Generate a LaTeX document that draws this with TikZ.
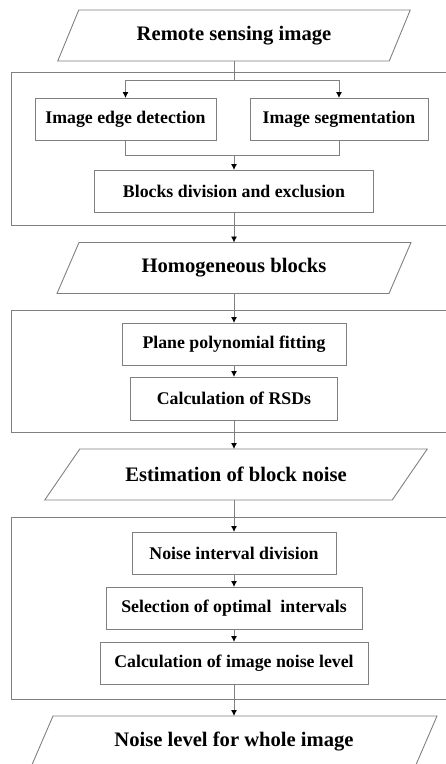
\documentclass[tikz,border=0pt]{standalone}
\usepackage{fontspec}
\setmainfont{Liberation Serif}
\usetikzlibrary{arrows.meta}

\definecolor{linegray}{RGB}{128,128,128}
\tikzset{
  boxline/.style={draw=linegray, line width=0.9pt},
  procbox/.style={boxline, rectangle, minimum height=42pt, inner sep=0pt, outer sep=0pt,
    font=\fontsize{17.8}{20}\selectfont\bfseries},
  databox/.style={rectangle, minimum height=51pt, inner sep=0pt, outer sep=0pt,
    font=\fontsize{20.6}{24}\selectfont\bfseries},
  arr/.style={boxline, -{Latex[length=6pt,width=6pt,color=black]}},
}
% slanted outline round a data node: #1 node, #2 half slant
\newcommand{\slantbox}[2]{%
  \draw[boxline] ([xshift=#2]#1.north west) -- ([xshift=#2]#1.north east)
    -- ([xshift=-#2]#1.south east) -- ([xshift=-#2]#1.south west) -- cycle;}

\begin{document}
\begin{tikzpicture}[x=1pt, y=-1pt]
      \clip (0,0) rectangle (446,764);

      % Group frames (open on the right)
      \draw[boxline] (452,72) -| (11,225) -- (452,225);
      \draw[boxline] (452,310) -| (11,432) -- (452,432);
      \draw[boxline] (452,517) -| (11,699) -- (452,699);

      % Data nodes
      \node[databox, minimum width=331.5pt] (input) at (234,35.5) {Remote sensing image};
      \node[databox, minimum width=332pt] (homo) at (234,268) {Homogeneous blocks};
      \node[databox, minimum width=347.5pt] (blocknoise) at (236,474.5) {Estimation of block noise};
      \node[databox, minimum width=384pt] (output) at (234,741.5) {Noise level for whole image};
      \slantbox{input}{10.5pt}
      \slantbox{homo}{11pt}
      \slantbox{blocknoise}{17.5pt}
      \slantbox{output}{11pt}

      % Process nodes
      \node[procbox, minimum width=181pt] (edge) at (125.5,119) {Image edge detection};
      \node[procbox, minimum width=178pt] (seg) at (339,119) {Image segmentation};
      \node[procbox, minimum width=279pt] (blocks) at (234,191) {Blocks division and exclusion};
      \node[procbox, minimum width=224pt] (fitting) at (234,344) {Plane polynomial fitting};
      \node[procbox, minimum width=207pt, minimum height=43pt] (rsd) at (234,398.5) {Calculation of RSDs};
      \node[procbox, minimum width=204pt] (division) at (234,553) {Noise interval division};
      \node[procbox, minimum width=256pt] (selection) at (234,608) {Selection of optimal\ \ intervals};
      \node[procbox, minimum width=268pt] (level) at (234,663) {Calculation of image noise level};

      % Fork and join points
      \coordinate (fork) at (234,80);
      \coordinate (join) at (234,155);

      % Connectors
      \draw[boxline] (input.south) -- (fork);
      \draw[arr] (fork) -| (edge.north);
      \draw[arr] (fork) -| (seg.north);
      \draw[boxline] (edge.south) |- (join);
      \draw[boxline] (seg.south) |- (join);
      \draw[arr] (join) -- (blocks.north);
      \draw[arr] (blocks.south) -- (homo.north);
      \draw[arr] (homo.south) -- (fitting.north);
      \draw[arr] (fitting.south) -- (rsd.north);
      \draw[arr] (rsd.south) -- (rsd.south |- blocknoise.north);
      \draw[arr] (division.north |- blocknoise.south) -- (division.north);
      \draw[arr] (division.south) -- (selection.north);
      \draw[arr] (selection.south) -- (level.north);
      \draw[arr] (level.south) -- (output.north);

      \end{tikzpicture}
\end{document}
